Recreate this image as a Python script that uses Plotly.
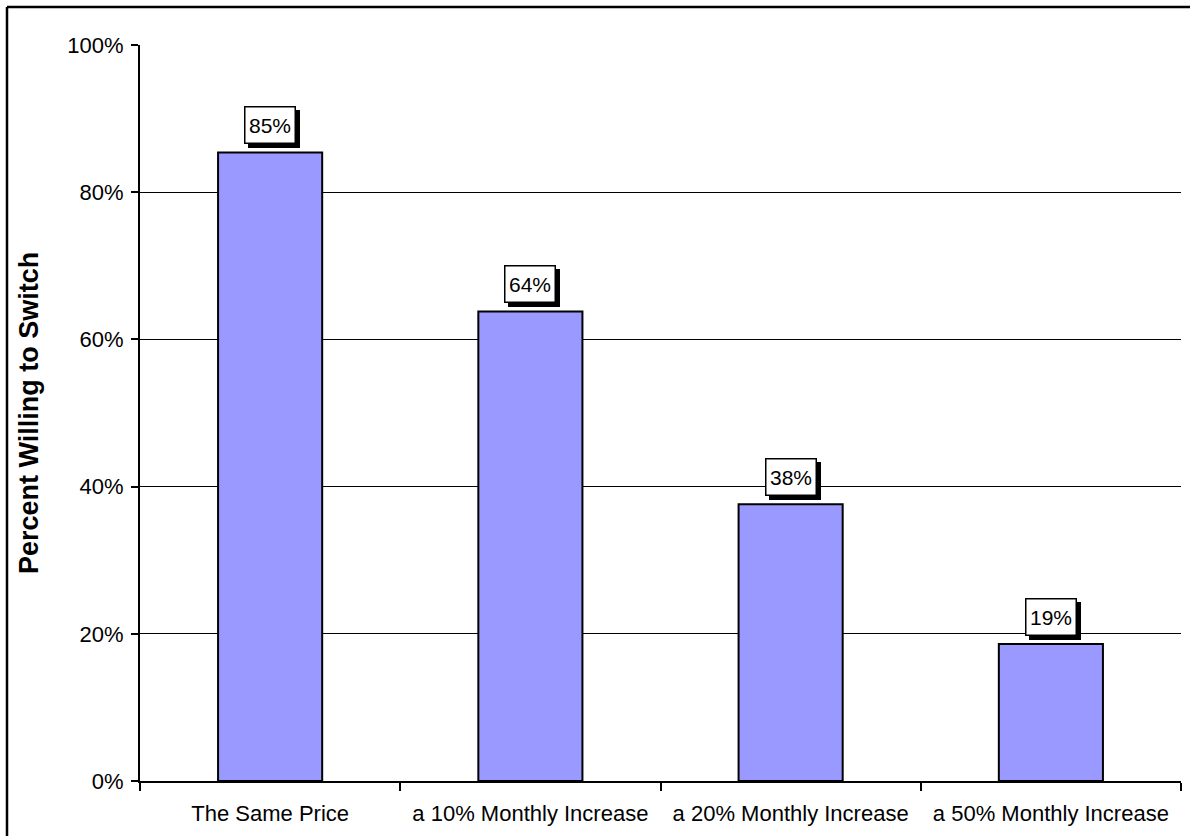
import plotly.graph_objects as go

categories = ["The Same Price", "a 10% Monthly Increase", "a 20% Monthly Increase", "a 50% Monthly Increase"]
values = [0.854, 0.638, 0.376, 0.186]
labels = ["85%", "64%", "38%", "19%"]
y_ticks = [0, 0.2, 0.4, 0.6, 0.8, 1.0]
y_tick_text = ["0%", "20%", "40%", "60%", "80%", "100%"]
y_title = "Percent Willing to Switch"

FONT = "Arial, Liberation Sans, sans-serif"

W, H = 1190, 836
L, R, T, B = 140, 9, 45, 55
pw, ph = W - L - R, H - T - B

fig = go.Figure()
fig.add_trace(go.Bar(
    x=categories, y=values,
    marker=dict(color="#9999FF", line=dict(color="black", width=2)),
    hoverinfo="skip",
))

annotations = []
for c, v, t in zip(categories, values, labels):
    # drop shadow box (no text)
    annotations.append(dict(
        x=c, y=v, xref="x", yref="y", text="&#160;", showarrow=False,
        xanchor="center", yanchor="bottom", xshift=4, yshift=4,
        font=dict(family=FONT, size=21, color="black"),
        bgcolor="black", bordercolor="black", borderwidth=1.5,
        width=49, height=35, borderpad=0,
    ))
    annotations.append(dict(
        x=c, y=v, xref="x", yref="y", text=t, showarrow=False,
        xanchor="center", yanchor="bottom", xshift=0, yshift=8,
        font=dict(family=FONT, size=21, color="black"),
        bgcolor="white", bordercolor="black", borderwidth=1.5,
        width=49, height=35, borderpad=0,
    ))

annotations.append(dict(
    x=(29 - L) / pw, y=0.5, xref="paper", yref="paper",
    text="<b>" + y_title + "</b>", textangle=-90, showarrow=False,
    xanchor="center", yanchor="middle",
    font=dict(family=FONT, size=27, color="black"),
))

# outer frame: top and left edges (the right and bottom run past the page)
frame_x = (7 - L) / pw
frame_y = (H - B - 7) / ph
shapes = [
    dict(type="line", xref="paper", yref="paper", x0=frame_x, x1=(W + 10 - L) / pw,
         y0=frame_y, y1=frame_y, line=dict(color="black", width=2.5)),
    dict(type="line", xref="paper", yref="paper", x0=frame_x, x1=frame_x,
         y0=frame_y, y1=-0.2, line=dict(color="black", width=2.5)),
]

fig.update_layout(
    width=W, height=H,
    margin=dict(l=L, r=R, t=T, b=B),
    paper_bgcolor="white", plot_bgcolor="white",
    bargap=0.6,
    showlegend=False,
    font=dict(family=FONT, size=22, color="black"),
    annotations=annotations,
    shapes=shapes,
)

fig.update_xaxes(
    showline=True, linecolor="black", linewidth=2,
    ticks="outside", tickson="boundaries", ticklen=8, tickwidth=2, tickcolor="black",
    showgrid=False, ticklabelstandoff=12,
    tickfont=dict(family=FONT, size=22, color="black"),
)
fig.update_yaxes(
    range=[0, 1], tickvals=y_ticks, ticktext=y_tick_text,
    showline=True, linecolor="black", linewidth=2,
    ticks="outside", ticklen=7, tickwidth=2, tickcolor="black",
    showgrid=True, gridcolor="black", gridwidth=1,
    zeroline=False, ticklabelstandoff=3,
    tickfont=dict(family=FONT, size=22, color="black"),
)

fig.write_html(
    "out.html",
    config={"displayModeBar": False},
    post_script="document.body.style.margin='0';document.body.style.overflow='hidden';",
)
